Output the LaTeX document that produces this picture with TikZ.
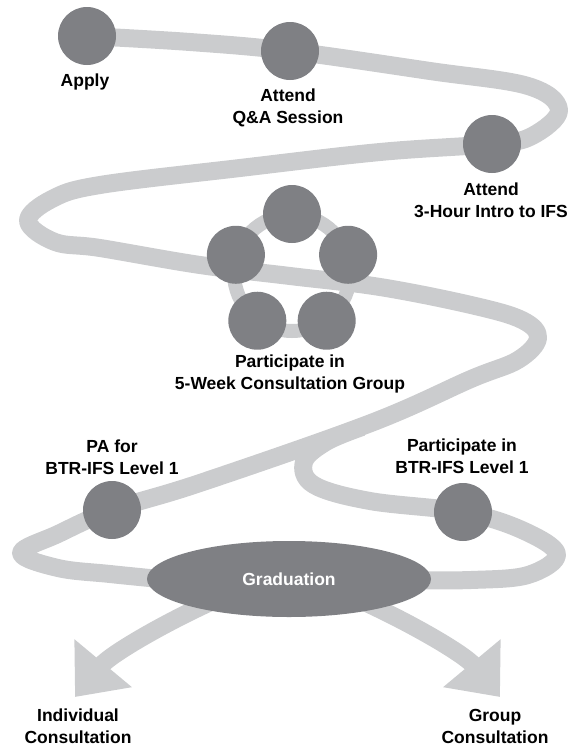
\documentclass[tikz,border=0pt]{standalone}
\usepackage{fontspec}
\setmainfont{Liberation Sans}
\usetikzlibrary{shapes.geometric,arrows.meta,calc}
\definecolor{road}{HTML}{CBCCCE}
\definecolor{stop}{HTML}{7F8084}
\tikzset{
	road/.style={draw=road, line width=18pt, line cap=round, line join=round},
	stopdot/.style={circle, fill=stop, minimum size=58pt, inner sep=0pt},
	lbl/.style={anchor=north, align=center, inner sep=0pt, font=\fontsize{17.5}{22}\selectfont\bfseries},
}

\begin{document}
\begin{tikzpicture}[x=1pt, y=1pt, yscale=-1]
	\useasboundingbox (0,0) rectangle (571,747);
	% the road
	\draw[road] plot[smooth, tension=0.6] coordinates {(87,36) (190,42) (290,51) (430,71) (528,86) (559,110) (532,136) (492,144) (380,152) (240,168) (100,185) (52,199) (28,221) (55,242) (100,248) (200,265) (290,276) (380,287) (471,305) (522,320) (538,338) (518,360) (471,379) (371,423) (200,483) (112,510) (58,534) (21,553) (58,568) (110,574) (170,580)};
	\draw[road, line cap=butt] plot[smooth, tension=0.6] coordinates {(362,427) (326,442) (304,462) (314,485) (370,501) (463,512) (522,530) (557,554) (528,575) (471,580) (410,580)};
	\draw[road, line cap=butt, -{Triangle[width=72pt, length=44pt]}] (215,600) .. controls (160,625) and (110,655) .. (75,697);
	\draw[road, line cap=butt, -{Triangle[width=72pt, length=44pt]}] (360,600) .. controls (415,625) and (465,655) .. (500,697);
	\draw[draw=road, line width=14pt] (292,273) circle (58);
	% stops
	\node[stopdot] (apply) at (87,36) {};
	\node[stopdot] (qa) at (290,51) {};
	\node[stopdot] (intro) at (492,144) {};
	\foreach \a/\n in {-90/g1, -18/g2, 54/g3, 126/g4, 198/g5}
		\node[stopdot] (\n) at ($(292,273)+(\a:59)$) {};
	\node[stopdot] (pa) at (112,510) {};
	\node[stopdot] (lvl) at (463,512) {};
	\node[ellipse, fill=stop, minimum width=284pt, minimum height=76pt, text=white, font=\fontsize{17.5}{22}\selectfont\bfseries] (grad) at (289,579) {Graduation};
	% labels
	\node[lbl] (applyl) at (85,74) {Apply};
	\node[lbl] (qal) at (288,89) {Attend\\Q\&A Session};
	\node[lbl] (introl) at (491,183) {Attend\\3-Hour Intro to IFS};
	\node[lbl] (groupl) at (290,355) {Participate in\\5-Week Consultation Group};
	\node[lbl] (pal) at (112,440) {PA for\\BTR-IFS Level 1};
	\node[lbl] (lvll) at (462,439) {Participate in\\BTR-IFS Level 1};
	\node[lbl] (indl) at (78,709) {Individual\\Consultation};
	\node[lbl] (grpl) at (495,709) {Group\\Consultation};
\end{tikzpicture}
\end{document}
